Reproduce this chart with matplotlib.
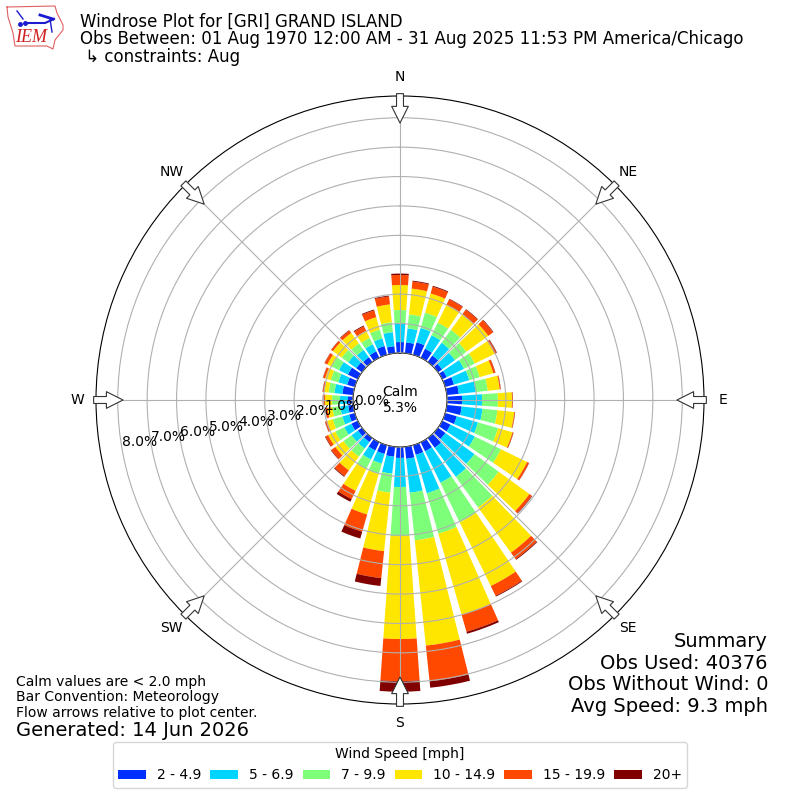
import numpy as np
import matplotlib.pyplot as plt
from matplotlib.patches import Patch

directions = np.arange(0, 360, 10)
speed_labels = ['2 - 4.9', '5 - 6.9', '7 - 9.9', '10 - 14.9', '15 - 19.9', '20+']
colors = ['#0030ff', '#00d4ff', '#7dff7a', '#ffe600', '#ff4800', '#800000']

# percent of obs per direction (N clockwise), one list per speed bin
blue = [.37, .37, .44, .34, .27, .17, .17, .31, .41, .51, .51, .41, .31, .31, .41, .34, .34, .41,
        .37, .34, .31, .31, .17, .17, .24, .20, .17, .17, .37, .27, .37, .24, .20, .24, .31, .24]
cyan = [.65, .48, .51, .51, .54, .54, .65, .54, .58, .68, .71, .75, .92, 1.22, 1.22, 1.19, 1.36, 1.16,
        .99, .58, .34, .34, .27, .27, .27, .24, .27, .27, .27, .31, .34, .34, .31, .27, .27, .48]
green = [.44, .48, .54, .48, .54, .48, .41, .37, .41, .54, .51, .71, .99, 1.02, 1.29, 1.50, 1.43, 1.63,
         1.67, .65, .37, .37, .34, .34, .34, .34, .27, .27, .20, .27, .27, .27, .27, .24, .31, .34]
yellow = [.85, .88, .68, .68, .65, .92, .75, .48, .41, .48, .58, .51, .99, 1.29, 1.90, 2.41, 2.86, 3.60,
          3.50, 2.00, 1.43, .82, .58, .34, .27, .20, .17, .24, .15, .20, .17, .37, .44, .27, .44, .61]
orange = [.34, .24, .24, .20, .20, .20, .07, .07, .03, .02, .02, .03, .07, .10, .27, .37, .61, 1.22,
          1.43, .92, .61, .31, .24, .17, .10, .07, .07, .07, .05, .07, .10, .07, .10, .17, .24, .27]
dark = [.05, .03, .03, .02, .02, .02, .02, .01, .01, .01, .01, .01, .01, .02, .03, .03, .07, .22,
        .36, .27, .24, .10, .03, .02, .02, .01, .01, .01, .01, .01, .01, .01, .02, .03, .03, .03]

compass = ['N', 'NE', 'E', 'SE', 'S', 'SW', 'W', 'NW']
compass_deg = np.arange(0, 360, 45)
rings = np.arange(0, 9)

fig = plt.figure(figsize=(8, 8), dpi=100)
ax = fig.add_axes([96 / 800, 96 / 800, 608 / 800, 608 / 800], projection='polar')
ax.set_theta_zero_location('N')
ax.set_theta_direction(-1)

theta = np.radians(directions)
bottom = np.zeros(len(directions))
for vals, c in zip([blue, cyan, green, yellow, orange, dark], colors):
    ax.bar(theta, vals, width=np.radians(8), bottom=bottom, color=c, linewidth=0, zorder=2)
    bottom += np.array(vals)

ax.set_rorigin(-1.6)
ax.set_rlim(0, 8.74)
ax.set_axisbelow(False)
ax.set_rticks(rings)
ax.set_yticklabels(['%.1f%%' % r for r in rings], fontsize=10)
ax.set_rlabel_position(260)
ax.set_thetagrids(compass_deg, compass, fontsize=10)
ax.tick_params(axis='x', pad=3)
ax.grid(True, color='#b0b0b0', lw=0.8)

# flow arrows pointing at the centre
for deg in compass_deg:
    ax.annotate('', xy=(np.radians(deg), 7.82), xytext=(np.radians(deg), 8.82), annotation_clip=False,
                arrowprops=dict(facecolor='white', edgecolor='#333333', lw=0.8, width=5, headwidth=12,
                                headlength=12, shrink=0), zorder=5)

ax.text(0.5, 0.5, 'Calm\n5.3%', transform=ax.transAxes, ha='center', va='center', fontsize=10,
        linespacing=1.1, zorder=6)

fig.text(80 / 800, 1 - 13 / 800, 'Windrose Plot for [GRI] GRAND ISLAND\n'
         'Obs Between: 01 Aug 1970 12:00 AM - 31 Aug 2025 11:53 PM America/Chicago\n'
         ' ↳ constraints: Aug', fontsize=12, va='top', linespacing=0.95)

fig.text(768 / 800, 1 - 716 / 800, 'Summary\nObs Used: 40376\nObs Without Wind: 0\nAvg Speed: 9.3 mph',
         fontsize=14, ha='right', va='bottom', linespacing=1.17)
fig.text(16 / 800, 1 - 720 / 800, 'Calm values are < 2.0 mph\nBar Convention: Meteorology\n'
         'Flow arrows relative to plot center.', fontsize=10, va='bottom', linespacing=1.15)
fig.text(16 / 800, 1 - 740 / 800, 'Generated: 14 Jun 2026', fontsize=14, va='bottom')

handles = [Patch(facecolor=c, label=l) for c, l in zip(colors, speed_labels)]
fig.legend(handles=handles, title='Wind Speed [mph]', ncol=6, loc='lower center',
           bbox_to_anchor=(0.5, 0.0065), fontsize=10, title_fontsize=10,
           columnspacing=0.68, handletextpad=0.75)

# IEM logo
logo = fig.add_axes([0, 1 - 55 / 800, 70 / 800, 55 / 800])
logo.set_xlim(0, 70)
logo.set_ylim(55, 0)
logo.axis('off')
logo.plot([7, 55, 57, 63, 63, 55, 53, 47, 15, 13, 8, 7], [7, 6, 13, 25, 30, 40, 49, 46, 46, 33, 17, 7],
          color='#e06060', lw=0.8)
logo.plot([25, 45, 54], [23, 23, 19], color='#1a1ad0', lw=1.5)
logo.plot([17, 23], [11, 19], color='#1a1ad0', lw=1)
logo.plot([40, 53], [15, 19], color='#1a1ad0', lw=2)
logo.plot([50, 52], [19, 32], color='#1a1ad0', lw=1)
logo.plot([25, 20], [23, 24], 'o', color='#1a1ad0', ms=2.5)
logo.text(31, 38, 'IEM', color='#d02020', fontsize=13, family='Liberation Serif', style='italic',
          ha='center', va='center')

fig.savefig('out.png', dpi=100)
